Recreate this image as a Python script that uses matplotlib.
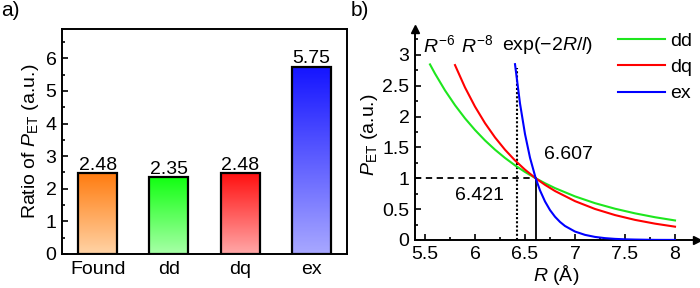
import numpy as np
import matplotlib
matplotlib.use("Agg")
import matplotlib.pyplot as plt
from matplotlib.colors import LinearSegmentedColormap
from matplotlib.ticker import MultipleLocator

plt.rcParams['font.family'] = ['Liberation Sans', 'DejaVu Sans']
plt.rcParams['mathtext.fontset'] = 'custom'
plt.rcParams['mathtext.rm'] = 'Liberation Sans'
plt.rcParams['mathtext.it'] = 'Liberation Sans:italic'
plt.rcParams['mathtext.bf'] = 'Liberation Sans:bold'

# ---- data: panel a ----
bar_categories = ["Found", "dd", "dq", "ex"]
bar_values = [2.48, 2.35, 2.48, 5.75]
bar_labels = ["2.48", "2.35", "2.48", "5.75"]
bar_top_colors = ["#ff7c10", "#12ff12", "#ff1010", "#1414ff"]
bar_bottom_colors = ["#ffd3a6", "#a8ffa8", "#ffa8a8", "#a8a8ff"]

# ---- data: panel b ----
R_dd = [5.55, 5.6, 5.7, 5.8, 5.9, 6.0, 6.1, 6.2, 6.3, 6.4, 6.5, 6.607, 6.7, 6.8, 7.0, 7.2, 7.4, 7.6, 7.8, 8.0]
P_dd = [2.846, 2.697, 2.425, 2.185, 1.972, 1.783, 1.614, 1.464, 1.330, 1.210, 1.103, 1.0, 0.920, 0.841, 0.707, 0.597, 0.507, 0.432, 0.369, 0.317]
R_dq = [5.8, 5.9, 6.0, 6.1, 6.2, 6.3, 6.4, 6.5, 6.607, 6.7, 6.8, 7.0, 7.2, 7.4, 7.6, 7.8, 8.0]
P_dq = [2.835, 2.473, 2.162, 1.894, 1.663, 1.463, 1.290, 1.140, 1.0, 0.894, 0.794, 0.630, 0.503, 0.404, 0.326, 0.265, 0.216]
R_ex = [6.4, 6.45, 6.5, 6.55, 6.607, 6.65, 6.7, 6.75, 6.8, 6.85, 6.9, 7.0, 7.1, 7.2, 7.3, 7.4, 7.5, 7.6, 7.8, 8.0]
P_ex = [2.85, 2.213, 1.718, 1.334, 1.0, 0.804, 0.625, 0.485, 0.377, 0.293, 0.227, 0.137, 0.083, 0.050, 0.030, 0.018, 0.011, 0.007, 0.002, 0.001]
R_cross = 6.607
R_cross2 = 6.421
dotted_top = 2.78

fs = 14
fig = plt.figure(figsize=(7, 2.88), dpi=100)

# ================= panel a =================
ax1 = fig.add_axes([62/700, 1 - 254/288, (347-62)/700, (254-29)/288])
x = np.arange(len(bar_categories))
w = 0.55
for xi, v, ct, cb in zip(x, bar_values, bar_top_colors, bar_bottom_colors):
    cmap = LinearSegmentedColormap.from_list("g", [ct, cb])
    grad = np.linspace(0, 1, 256).reshape(-1, 1)
    ax1.imshow(grad, cmap=cmap, aspect='auto', origin='upper',
               extent=[xi - w/2, xi + w/2, 0, v], zorder=1)
bars = ax1.bar(x, bar_values, width=w, facecolor='none', edgecolor='black', linewidth=1.6, zorder=2)
for xi, v, lab in zip(x, bar_values, bar_labels):
    ax1.text(xi, v - 0.02, lab, ha='center', va='bottom', fontsize=fs)
ax1.set_xlim(-0.5, 3.5)
ax1.set_ylim(0, 6.9)
ax1.set_xticks(x)
ax1.set_xticklabels(bar_categories, fontsize=fs)
ax1.tick_params(axis='x', length=0, pad=5)
ax1.yaxis.set_major_locator(MultipleLocator(1))
ax1.yaxis.set_minor_locator(MultipleLocator(0.5))
ax1.tick_params(axis='y', which='major', direction='in', length=4, width=1.2, labelsize=fs, pad=4)
ax1.tick_params(axis='y', which='minor', direction='in', length=2.5, width=1.2)
for s in ax1.spines.values():
    s.set_linewidth(1.4)
ax1.set_ylabel(r'Ratio of $P_{\rm ET}$ (a.u.)', fontsize=fs, labelpad=3)
fig.text(1/700, 1 - 1/288, 'a)', fontsize=fs + 1, ha='left', va='top')

# ================= panel b =================
ax2 = fig.add_axes([415/700, 1 - 240/288, (697-415)/700, (240-29)/288])
ax2.plot(R_dd, P_dd, color='#1ee61e', lw=1.5, label='dd', zorder=3)
ax2.plot(R_dq, P_dq, color='#ff0000', lw=1.5, label='dq', zorder=3)
ax2.plot(R_ex, P_ex, color='#0000ff', lw=1.5, label='ex', zorder=3)
ax2.plot([5.4, R_cross], [1, 1], color='black', lw=1.3, linestyle=(0, (3.5, 2.5)), zorder=2)
ax2.plot([R_cross2, R_cross2], [0, dotted_top], color='black', lw=1.5, linestyle=(0, (1, 1)), zorder=2)
ax2.plot([R_cross, R_cross], [0, 1], color='black', lw=1.3, zorder=2)
ax2.set_xlim(5.4, 8.22)
ax2.set_ylim(0, 3.42)
ax2.spines['top'].set_visible(False)
ax2.spines['right'].set_visible(False)
ax2.spines['left'].set_linewidth(1.4)
ax2.spines['bottom'].set_linewidth(1.4)
ax2.plot(1, 0, '>k', transform=ax2.transAxes, clip_on=False, markersize=6)
ax2.plot(0, 1, '^k', transform=ax2.transAxes, clip_on=False, markersize=6)
ax2.set_xticks([5.5, 6, 6.5, 7, 7.5, 8])
ax2.set_xticklabels(['5.5', '6', '6.5', '7', '7.5', '8'])
ax2.xaxis.set_minor_locator(MultipleLocator(0.25))
ax2.set_yticks([0, 0.5, 1, 1.5, 2, 2.5, 3])
ax2.set_yticklabels(['0', '0.5', '1', '1.5', '2', '2.5', '3'])
ax2.yaxis.set_minor_locator(MultipleLocator(0.25))
ax2.tick_params(which='major', direction='in', length=4, width=1.2, labelsize=fs, pad=4)
ax2.tick_params(which='minor', direction='in', length=2.5, width=1.2)
ax2.set_xlabel(r'$R$ (Å)', fontsize=fs, labelpad=0)
ax2.set_ylabel(r'$P_{\rm ET}$ (a.u.)', fontsize=fs, labelpad=2)
ax2.text(5.48, 2.98, r'$R^{-6}$', fontsize=fs, ha='left', va='bottom')
ax2.text(5.86, 2.98, r'$R^{-8}$', fontsize=fs, ha='left', va='bottom')
ax2.text(6.27, 2.98, r'exp($-2R/l$)', fontsize=fs, ha='left', va='bottom')
ax2.text(6.69, 1.38, '6.607', fontsize=fs, ha='left', va='center')
ax2.text(5.8, 0.72, '6.421', fontsize=fs, ha='left', va='center')
fig.text(351/700, 1 - 1/288, 'b)', fontsize=fs + 1, ha='left', va='top')

leg = ax2.legend(loc='upper left', bbox_to_anchor=(618/700, 1 - 32/288),
                 bbox_transform=fig.transFigure, frameon=False, fontsize=fs,
                 borderpad=0, borderaxespad=0, handlelength=2.4,
                 handletextpad=0.3, labelspacing=0.45)

fig.savefig('out.png', dpi=100)
